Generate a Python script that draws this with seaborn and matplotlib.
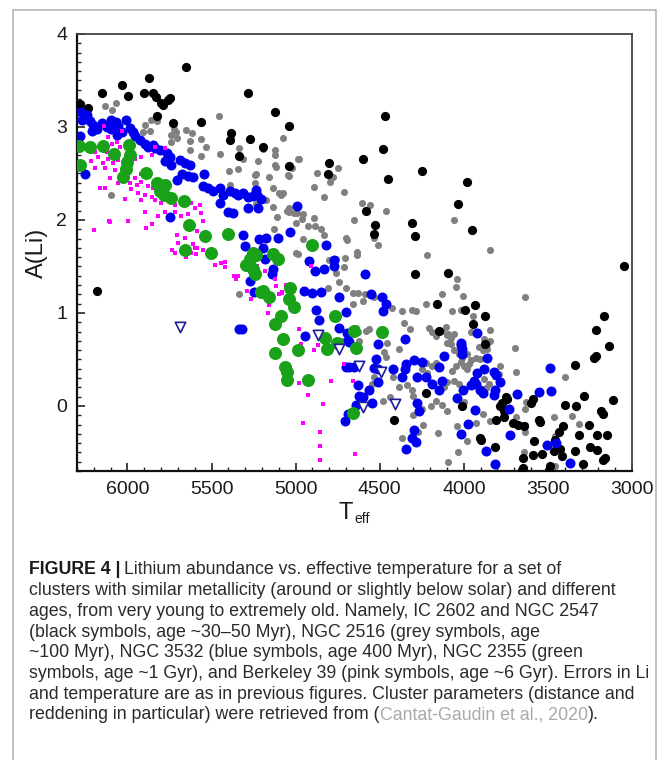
import matplotlib
matplotlib.use("Agg")
import matplotlib.pyplot as plt
import seaborn as sns
import numpy as np
from matplotlib.patches import Rectangle
from matplotlib.ticker import MultipleLocator

sns.set_theme(style="white")
plt.rcParams['font.family'] = ['Liberation Sans', 'DejaVu Sans']

# ---------------- data (Teff, A(Li)) ----------------
black_teff = [5654, 5873, 6035, 6154, 5996, 5903, 5847, 5832, 5802, 5788, 5758, 5749, 6282, 6237, 5822, 5729,
              5565, 5284, 5383, 5389, 5274, 5339, 5195, 5120, 5037, 5037, 4800, 4806, 4598, 4478, 4470, 4448,
              4246, 4582, 4529, 4537, 4310, 4292, 3984, 4035, 3950, 6179, 3045, 4290, 4094, 4160, 3936, 3995,
              3877, 3944, 3165, 3213, 3136, 3213, 3225, 3337, 3877, 4147, 4226, 4418, 3284, 3114, 3396, 3331,
              3185, 3173, 3588, 3600, 3752, 3742, 3772, 3782, 3762, 3806, 3762, 3707, 3679, 3644, 3555, 3545,
              3258, 3317, 3410, 3436, 3209, 3150, 3901, 3897, 3812, 3580, 3456, 3426, 3466, 3341, 3248, 3209,
              3159, 3173, 3588, 3535, 3647, 3292, 3416, 3485, 3650, 4011, 3491, 3657]
black_ali = [3.65, 3.53, 3.45, 3.37, 3.33, 3.37, 3.37, 3.32, 3.26, 3.24, 3.29, 3.31, 3.25, 3.20, 3.12, 3.04,
             3.05, 3.37, 2.93, 2.86, 2.87, 2.69, 2.79, 3.16, 3.01, 2.58, 2.61, 2.49, 2.66, 2.76, 3.12, 2.44,
             2.53, 2.10, 1.95, 1.85, 1.97, 1.83, 2.41, 2.17, 1.89, 1.24, 1.50, 1.42, 1.43, 1.10, 1.08, 1.03,
             0.97, 0.88, 0.97, 0.82, 0.64, 0.54, 0.51, 0.44, 0.67, 0.81, 0.14, -0.15, 0.11, 0.06, 0.015, 0.0,
             -0.05, -0.09, 0.07, 0.03, 0.10, 0.07, 0.03, 0.0, -0.05, -0.15, -0.12, -0.18, -0.20, -0.22, -0.15, -0.17,
             -0.21, -0.31, -0.22, -0.28, -0.31, -0.31, -0.35, -0.37, -0.44, -0.38, -0.37, -0.46, -0.49, -0.48, -0.44, -0.47,
             -0.56, -0.58, -0.53, -0.52, -0.56, -0.62, -0.54, -0.65, -0.67, 0.0, -0.69, -0.69]

grey_teff = [6134, 6071, 6090, 6272, 5458, 5822, 5861, 5897, 5907, 5867, 5723, 5739, 5709, 5650, 5703, 5739,
             5630, 5630, 5531, 5565, 5452, 5314, 5225, 5344, 5399, 5240, 5244, 5393, 5235, 6098, 5614, 5561,
             5383, 5339, 5197, 5120, 5116, 5043, 5019, 4978, 5234, 5078, 5037, 4990, 5077, 5120, 4988, 5120,
             5037, 5160, 5136, 5100, 5087, 4875, 4746, 4790, 4780, 4794, 4889, 4830, 4711, 5175, 5132, 5053,
             5037, 5007, 4958, 4962, 5112, 4998, 4928, 4883, 4849, 4830, 4889, 5126, 4606, 4559, 4464, 4655,
             4701, 4697, 4638, 4513, 4533, 4217, 4998, 4958, 4059, 3847, 5339, 4988, 4800, 4760, 4705, 4715,
             4760, 4636, 4740, 4701, 4810, 4657, 4632, 4586, 4661, 4602, 4533, 4428, 4365, 4311, 4286, 4132,
             4226, 4355, 4319, 4207, 4187, 4167, 4128, 4108, 4098, 4582, 4563, 4632, 4509, 4454, 4385, 4622,
             4725, 4642, 4474, 4464, 4226, 4187, 4167, 4246, 4217, 4385, 4339, 4306, 4300, 4118, 4167, 4132,
             4533, 4543, 4424, 4242, 4153, 4369, 4092, 4246, 4197, 4039, 4049, 4005, 4069, 4019, 3944, 3845,
             3638, 3693, 3689, 3396, 3628, 3634, 3687, 3638, 3634, 3466, 3456, 3466, 3357, 3317, 4094, 4059,
             4078, 4102, 4075, 3960, 3881, 3861, 3845, 3910, 3885, 3865, 4059, 4029, 4009, 3980, 3956, 4019,
             3999, 3980, 3970, 4049, 4069, 3930, 3901, 4059, 4029, 4098, 3881, 3851, 3871, 3786, 3792, 4098,
             4009, 3999, 4043, 3980, 3930, 3885, 3845, 4035, 3644, 3456, 4438, 4300, 4270, 4480]
grey_ali = [3.23, 3.26, 3.18, 3.06, 3.12, 3.06, 3.08, 3.02, 2.95, 2.96, 2.98, 2.91, 2.95, 2.97, 2.88, 2.84,
            2.85, 2.75, 2.79, 2.69, 2.71, 2.66, 2.63, 2.55, 2.53, 2.48, 2.40, 2.38, 2.17, 2.27, 2.93, 2.87,
            2.90, 2.77, 2.76, 2.70, 2.57, 2.48, 2.56, 2.66, 2.49, 2.29, 2.13, 2.07, 2.88, 2.75, 2.66, 2.59,
            2.47, 2.46, 2.34, 2.29, 2.27, 2.50, 2.56, 2.45, 2.46, 2.41, 2.35, 2.25, 2.30, 2.22, 2.14, 2.10,
            2.09, 2.08, 2.06, 2.01, 2.03, 1.97, 1.94, 1.94, 1.90, 1.84, 2.02, 1.90, 2.18, 2.16, 2.10, 2.00,
            1.81, 1.78, 1.66, 1.73, 1.81, 1.62, 1.65, 1.79, 2.00, 1.68, 1.20, 1.63, 1.57, 1.58, 1.59, 1.49,
            1.43, 1.62, 1.33, 1.27, 1.27, 1.21, 1.21, 1.20, 1.10, 1.13, 1.17, 1.05, 1.02, 1.03, 1.02, 1.20,
            1.10, 0.89, 0.83, 0.84, 0.79, 0.75, 0.81, 0.85, 0.76, 0.81, 0.83, 0.79, 0.68, 0.68, 0.61, 0.70,
            0.70, 0.84, 0.58, 0.53, 0.46, 0.43, 0.46, 0.40, 0.35, 0.20, 0.23, 0.17, 0.11, 0.20, 0.05, 0.01,
            0.31, 0.24, 0.31, -0.20, -0.29, -0.34, -0.60, -0.03, 0.0, 1.36, 1.28, 1.18, 1.02, 1.03, 0.97, 0.82,
            1.17, 0.62, 0.36, 0.31, 0.04, -0.03, -0.12, -0.28, -0.21, -0.12, -0.32, -0.38, -0.11, -0.19, 0.77, 0.77,
            0.73, 0.68, 0.67, 0.79, 0.72, 0.67, 0.70, 0.63, 0.60, 0.61, 0.60, 0.56, 0.52, 0.56, 0.49, 0.47,
            0.43, 0.40, 0.45, 0.43, 0.38, 0.52, 0.50, 0.27, 0.24, 0.26, 0.29, 0.24, 0.19, 0.43, 0.34, -0.05,
            0.01, 0.04, -0.22, -0.38, -0.18, -0.09, -0.16, -0.50, -0.50, -0.65, 0.10, -0.10, -0.28, 0.05]

blue_teff = [6276, 6243, 6269, 6223, 6203, 6184, 6213, 6154, 6124, 6095, 6059, 6006, 6035, 5986, 5966, 5956,
             6065, 5927, 5897, 5877, 5838, 5808, 5847, 5762, 5778, 5749, 5739, 6253, 5689, 5660, 5630, 5676,
             5640, 5610, 5703, 5545, 5551, 5521, 5491, 5452, 5432, 5393, 5363, 5343, 5314, 5284, 5254, 5235,
             5229, 5205, 5221, 5452, 5403, 5373, 5284, 5749, 5314, 5304, 5215, 5195, 6290, 6280, 6100, 6070,
             4994, 5033, 5175, 5106, 4820, 5185, 5136, 5140, 4918, 4883, 4830, 4770, 4770, 4586, 4952, 4903,
             4849, 4740, 4553, 4484, 4464, 4480, 4879, 4863, 4701, 4740, 4697, 4691, 4681, 4942, 4513, 4349,
             4701, 4681, 4652, 4523, 4513, 4533, 4424, 4369, 4349, 4345, 4296, 4246, 4276, 4226, 4187, 4147,
             4118, 4147, 4128, 4632, 4622, 4602, 4563, 4513, 4543, 4642, 4705, 4691, 4276, 4266, 4296, 4306,
             4286, 4345, 3924, 4019, 4009, 4009, 4015, 3861, 3881, 3821, 3806, 3782, 3920, 3940, 3930, 3960,
             3901, 3885, 3812, 3821, 4003, 4039, 3936, 3976, 4015, 3871, 3812, 3723, 3683, 3733, 3555, 3481,
             3489, 3505, 3450, 3367, 5335, 5320, 5274, 5248]
blue_ali = [3.16, 3.13, 3.08, 3.06, 3.02, 2.98, 2.96, 3.04, 3.00, 2.98, 3.01, 3.08, 2.95, 2.99, 2.95, 2.90,
            2.91, 2.86, 2.82, 2.79, 2.77, 2.75, 2.81, 2.72, 2.63, 2.68, 2.59, 2.49, 2.65, 2.61, 2.59, 2.49,
            2.47, 2.46, 2.43, 2.49, 2.36, 2.34, 2.31, 2.34, 2.27, 2.31, 2.29, 2.27, 2.29, 2.25, 2.26, 2.32,
            2.27, 2.23, 2.13, 2.18, 2.09, 2.08, 2.13, 2.03, 1.84, 1.72, 1.80, 1.70, 2.78, 2.90, 3.08, 3.05,
            2.15, 1.87, 1.81, 1.81, 1.73, 1.58, 1.47, 1.42, 1.56, 1.45, 1.47, 1.57, 1.51, 1.42, 1.24, 1.21,
            1.22, 1.17, 1.20, 1.17, 1.10, 1.02, 1.03, 0.92, 1.01, 0.84, 0.78, 0.71, 0.69, 0.75, 0.67, 0.72,
            0.42, 0.42, 0.42, 0.50, 0.40, 0.41, 0.40, 0.31, 0.40, 0.45, 0.49, 0.47, 0.31, 0.31, 0.24, 0.42,
            0.54, 0.17, 0.27, 0.22, 0.11, 0.10, 0.17, 0.26, 0.03, 0.01, -0.16, -0.09, 0.03, -0.06, -0.26, -0.34,
            -0.39, -0.46, 0.78, 0.68, 0.61, 0.56, 0.65, 0.52, 0.40, 0.37, 0.33, 0.26, 0.35, 0.27, 0.24, 0.22,
            0.17, 0.14, 0.17, 0.12, 0.17, 0.09, -0.04, -0.19, -0.30, -0.48, -0.62, -0.31, 0.13, -0.03, 0.15, 0.16,
            0.41, -0.42, -0.40, -0.61, 0.83, 0.83, 1.34, 1.23]

green_teff = [6288, 6223, 6144, 6282, 6079, 5992, 5986, 6000, 6006, 6025, 5887, 5822, 5778, 5808, 5782, 5739,
              5664, 5636, 5541, 5403, 5660, 5501, 5254, 5234, 5274, 5294, 5256, 5244, 5205, 5136, 5106, 5195,
              5160, 5033, 5037, 5007, 5087, 5120, 5077, 5120, 4988, 5061, 5053, 5053, 4924, 4826, 4814, 4766,
              4754, 4655, 4642, 4484, 4657, 4903]
green_ali = [2.80, 2.79, 2.80, 2.59, 2.71, 2.81, 2.70, 2.62, 2.55, 2.46, 2.50, 2.40, 2.38, 2.31, 2.27, 2.24,
             2.20, 1.95, 1.83, 1.85, 1.68, 1.64, 1.65, 1.62, 1.58, 1.52, 1.47, 1.42, 1.22, 1.63, 1.58, 1.24,
             1.17, 1.27, 1.15, 1.06, 0.97, 0.88, 0.72, 0.57, 0.60, 0.42, 0.36, 0.28, 0.28, 0.73, 0.61, 0.97,
             0.68, 0.81, 0.62, 0.80, -0.08, 1.73]

pink_teff = [6138, 6035, 6114, 6091, 6065, 6045, 6164, 6193, 6124, 6174, 6114, 6217, 6144, 6085, 6055, 5956,
             5917, 5838, 5778, 5857, 6193, 6134, 6075, 5996, 5956, 5917, 6104, 6055, 5986, 5946, 5917, 5877,
             5847, 5976, 5936, 5897, 5857, 6015, 5917, 5838, 5798, 5719, 5620, 5600, 5571, 5561, 5719, 5679,
             5640, 5778, 5897, 5818, 5857, 5887, 5996, 6104, 6197, 5703, 5660, 5610, 5585, 5551, 5531, 5735,
             5719, 5585, 5620, 6134, 6164, 5590, 5482, 5442, 5422, 5367, 5353, 5288, 5268, 5116, 5156, 5166,
             5096, 5081, 4978, 4968, 4889, 4869, 4978, 4928, 4839, 4790, 4958, 4855, 4855, 4855, 4646, 4711,
             4661, 4909, 5700, 5650, 5600, 5550, 5480, 5420, 5340, 5230, 5180, 5120, 5080, 5060, 6199, 6108]
pink_ali = [3.01, 2.96, 2.89, 2.82, 2.84, 2.79, 2.77, 2.73, 2.73, 2.68, 2.66, 2.63, 2.61, 2.61, 2.65, 2.66,
            2.68, 2.79, 2.77, 2.70, 2.56, 2.56, 2.54, 2.52, 2.45, 2.49, 2.45, 2.40, 2.40, 2.38, 2.41, 2.36,
            2.34, 2.33, 2.29, 2.27, 2.25, 2.23, 2.22, 2.21, 2.18, 2.16, 2.18, 2.13, 2.16, 2.08, 2.09, 2.04,
            2.06, 2.09, 2.09, 2.04, 1.96, 1.91, 1.99, 1.98, 1.89, 1.84, 1.81, 1.74, 1.88, 1.99, 1.81, 1.68,
            1.65, 1.70, 1.65, 2.34, 2.34, 1.63, 1.52, 1.54, 1.49, 1.40, 1.37, 1.24, 1.15, 1.29, 1.09, 1.00,
            1.20, 1.21, 0.83, 0.67, 0.60, 0.65, 0.25, 0.12, 0.02, 0.27, -0.18, -0.28, -0.43, -0.58, -0.52, 0.45,
            0.27, 1.50, 1.75, 1.60, 1.70, 1.68, 1.63, 1.55, 1.40, 1.50, 1.45, 1.37, 1.22, 1.30, 1.89, 1.99]

upper_teff = [5686, 4869, 4744, 4622, 4493, 4602, 4408]
upper_ali = [0.85, 0.76, 0.61, 0.43, 0.36, -0.01, 0.02]

x_ticks = [6000, 5500, 5000, 4500, 4000, 3500, 3000]
y_ticks = [0, 1, 2, 3, 4]

caption_lines = [
    "clusters with similar metallicity (around or slightly below solar) and different",
    "ages, from very young to extremely old. Namely, IC 2602 and NGC 2547",
    "(black symbols, age ~30\u201350 Myr), NGC 2516 (grey symbols, age",
    "~100 Myr), NGC 3532 (blue symbols, age 400 Myr), NGC 2355 (green",
    "symbols, age ~1 Gyr), and Berkeley 39 (pink symbols, age ~6 Gyr). Errors in Li",
    "and temperature are as in previous figures. Cluster parameters (distance and",
]

# ---------------- figure ----------------
W, H = 665, 760
fig = plt.figure(figsize=(W / 100, H / 100), dpi=100)
fig.patch.set_facecolor('white')
ax = fig.add_axes([77 / W, 1 - 471 / H, (632 - 77) / W, (471 - 34) / H])
ax.set_facecolor('white')

sns.scatterplot(x=grey_teff, y=grey_ali, ax=ax, color='#808080', s=26, marker='o', linewidth=0, zorder=2)
sns.scatterplot(x=black_teff, y=black_ali, ax=ax, color='#000000', s=44, marker='o', linewidth=0, zorder=3)
sns.scatterplot(x=blue_teff, y=blue_ali, ax=ax, color='#0000ee', s=52, marker='o', linewidth=0, zorder=4)
sns.scatterplot(x=pink_teff, y=pink_ali, ax=ax, color='#ff00ff', s=6, marker='s', linewidth=0, zorder=5)
sns.scatterplot(x=green_teff, y=green_ali, ax=ax, color='#1aa11a', s=88, marker='o', linewidth=0, zorder=6)
sns.scatterplot(x=upper_teff, y=upper_ali, ax=ax, marker='v', s=55, facecolor='white',
                edgecolor='#1c1c9c', linewidth=1.2, zorder=7)

ax.set_xlim(6300, 3000)
ax.set_ylim(-0.7, 4.0)
ax.set_xticks(x_ticks)
ax.set_yticks(y_ticks)
ax.xaxis.set_minor_locator(MultipleLocator(100))
ax.yaxis.set_minor_locator(MultipleLocator(0.1))
ax.tick_params(axis='both', which='major', direction='in', length=6, width=1.2, color='#222222',
               labelsize=14, labelcolor='#1a1a1a', pad=7, top=False, right=False, bottom=True, left=True)
ax.tick_params(axis='both', which='minor', direction='in', length=3, width=1.0, color='#222222',
               top=False, right=False, bottom=True, left=True)
for side in ['left', 'bottom']:
    ax.spines[side].set_color('#111111')
    ax.spines[side].set_linewidth(1.6)
for side in ['top', 'right']:
    ax.spines[side].set_color('#444444')
    ax.spines[side].set_linewidth(1.3)
ax.grid(False)

ax.set_ylabel('A(Li)', fontsize=17, color='#1a1a1a', labelpad=6)
fig.text(353 / W, 1 - 513 / H, 'T', fontsize=17, color='#1a1a1a', ha='right', va='center')
fig.text(354 / W, 1 - 519 / H, 'eff', fontsize=10, color='#1a1a1a', ha='left', va='center')

# outer frame
fig.add_artist(Rectangle((13 / W, -0.05), (656 - 13) / W, 1.05 - 10 / H, transform=fig.transFigure,
                         fill=False, edgecolor='#b5b5b5', linewidth=1.2))

# caption
cap_fs = 12.8
x0 = 29 / W
y_first = 570
dy = 20.7
fig.canvas.draw()
r = fig.canvas.get_renderer()
t1 = fig.text(x0, 1 - y_first / H, 'FIGURE 4 |', fontsize=cap_fs, fontweight='bold', color='#1a1a1a', va='center')
bb = t1.get_window_extent(renderer=r)
fig.text((bb.x1 + 4) / W, 1 - y_first / H, 'Lithium abundance vs. effective temperature for a set of',
         fontsize=cap_fs, color='#2a2a2a', va='center')
for i, line in enumerate(caption_lines):
    fig.text(x0, 1 - (y_first + dy * (i + 1)) / H, line, fontsize=cap_fs, color='#2a2a2a', va='center')
yl = 1 - (y_first + dy * 7) / H
ta = fig.text(x0, yl, 'reddening in particular) were retrieved from (', fontsize=cap_fs, color='#2a2a2a', va='center')
bb = ta.get_window_extent(renderer=r)
tb = fig.text(bb.x1 / W, yl, 'Cantat-Gaudin et al., 2020', fontsize=cap_fs, color='#a9a9a9', va='center')
bb = tb.get_window_extent(renderer=r)
fig.text(bb.x1 / W, yl, ').', fontsize=cap_fs, color='#2a2a2a', va='center')

fig.savefig('out.png', dpi=100, facecolor='white')
